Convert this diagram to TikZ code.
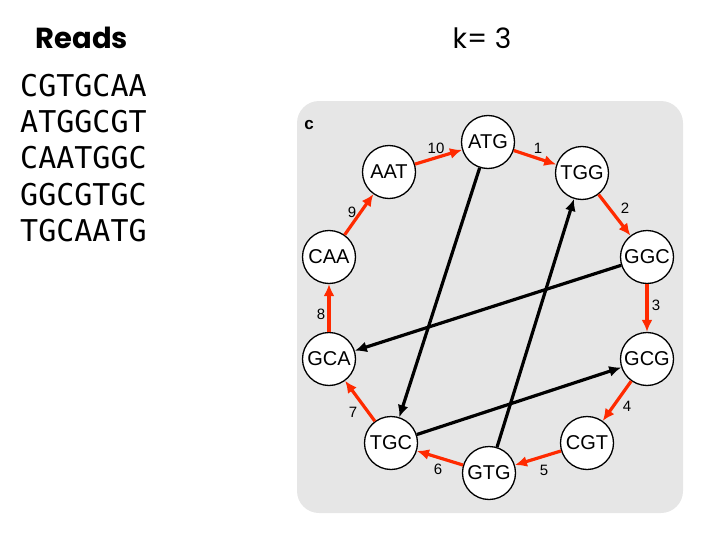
\documentclass[tikz,border=0pt]{standalone}
\usepackage{fontspec}
\setmainfont{Liberation Sans}
\newfontfamily\headfont{Poppins}
\newfontfamily\readfont{DejaVu Sans Mono}
\usetikzlibrary{arrows.meta}
\definecolor{panelgray}{HTML}{E6E6E6}
\definecolor{pathred}{HTML}{FF2A00}

\begin{document}
\begin{tikzpicture}[x=1pt, y=-1pt,
    kmer/.style={circle, draw, fill=white, line width=1.3pt, minimum size=53pt,
      inner sep=0pt, font=\fontsize{20}{20}\selectfont},
    walk/.style={pathred, line width=3.2pt, -{Latex[length=12pt,width=11pt]}},
    jump/.style={black, line width=3.2pt, -{Latex[length=12pt,width=11pt]}},
    num/.style={font=\fontsize{15}{15}\selectfont},
    read/.style={anchor=west, inner sep=0pt, font=\readfont\fontsize{30}{30}\selectfont}]
    \useasboundingbox (0,0) rectangle (707,543);

    % left column
    \node (reads) at (82,38) {\headfont\bfseries\fontsize{29}{29}\selectfont Reads};
    \node[read] (r1) at (20,86) {CGTGCAA};
    \node[read] (r2) at (20,122) {ATGGCGT};
    \node[read] (r3) at (20,158) {CAATGGC};
    \node[read] (r4) at (20,195) {GGCGTGC};
    \node[read] (r5) at (20,231) {TGCAATG};
    \node (k) at (482,38) {\headfont\fontsize{28}{28}\selectfont k= 3};

    % panel
    \fill[panelgray, rounded corners=22pt] (297,101) rectangle (683,513);
    \node (c) at (309,125) {\bfseries\fontsize{17}{17}\selectfont c};

    % k-mers
    \node[kmer] (atg) at (488,142) {ATG};
    \node[kmer] (tgg) at (582,173) {TGG};
    \node[kmer] (ggc) at (647,257) {GGC};
    \node[kmer] (gcg) at (647,359) {GCG};
    \node[kmer] (cgt) at (587,443) {CGT};
    \node[kmer] (gtg) at (489,473) {GTG};
    \node[kmer] (tgc) at (391,443) {TGC};
    \node[kmer] (gca) at (329,359) {GCA};
    \node[kmer] (caa) at (329,257) {CAA};
    \node[kmer] (aat) at (389,172) {AAT};

    % Eulerian walk
    \draw[walk] (atg) -- (tgg);
    \draw[walk] (tgg) -- (ggc);
    \draw[walk] (ggc) -- (gcg);
    \draw[walk] (gcg) -- (cgt);
    \draw[walk] (cgt) -- (gtg);
    \draw[walk] (gtg) -- (tgc);
    \draw[walk] (tgc) -- (gca);
    \draw[walk] (gca) -- (caa);
    \draw[walk] (caa) -- (aat);
    \draw[walk] (aat) -- (atg);

    % other edges
    \draw[jump] (atg) -- (tgc);
    \draw[jump] (gtg) -- (tgg);
    \draw[jump] (ggc) -- (gca);
    \draw[jump] (tgc) -- (gcg);

    % step numbers
    \node[num] (n1) at (538,148) {1};
    \node[num] (n2) at (625,208) {2};
    \node[num] (n3) at (656,305) {3};
    \node[num] (n4) at (627,406) {4};
    \node[num] (n5) at (544,470) {5};
    \node[num] (n6) at (438,469) {6};
    \node[num] (n7) at (353,412) {7};
    \node[num] (n8) at (321,314) {8};
    \node[num] (n9) at (352,212) {9};
    \node[num] (n10) at (436,148) {10};
\end{tikzpicture}
\end{document}
